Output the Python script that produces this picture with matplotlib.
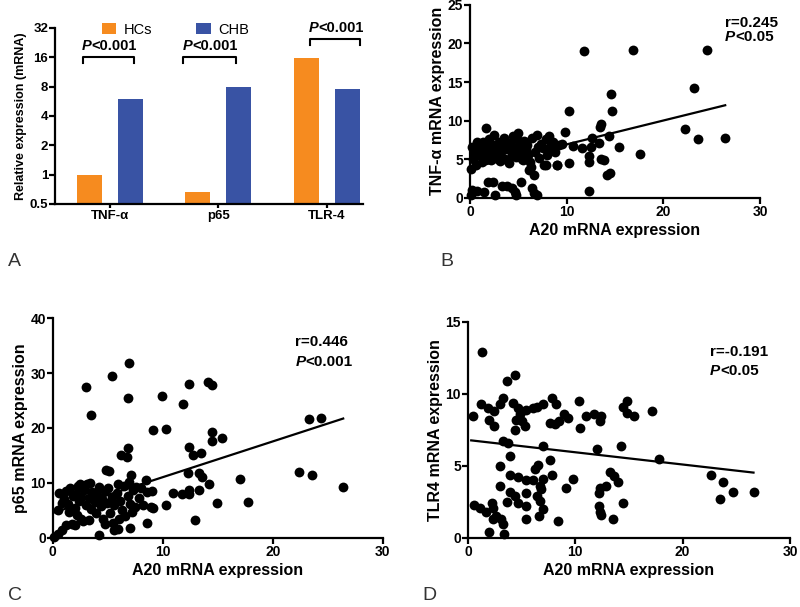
import numpy as np
import matplotlib
matplotlib.use('Agg')
import matplotlib.pyplot as plt

plt.rcParams['font.family'] = ['Liberation Sans', 'DejaVu Sans']
plt.rcParams['font.weight'] = 'bold'

# panel A: relative expression
genes = ['TNF-α', 'p65', 'TLR-4']
hcs = [1.0, 0.66, 15.9]
chb = [6.0, 7.9, 7.6]
a_yticks = [0.5, 1, 2, 4, 8, 16, 32]

# panel B: A20 vs TNF-a
b_x = [11.8, 16.9, 24.5, 23.2, 14.6, 10.2, 14.7, 13.5, 13.4, 22.2, 23.6, 26.4, 17.6, 15.4,
       14.4, 12.6, 12.5, 13.3, 13.6, 13.9, 12.3, 12.3, 14.5, 14.2, 12.3, 11.6, 10.7, 10.2,
       9.8, 9.0, 7.9,
       1.9, 2.4, 0.2, 0.7, 1.4, 2.6, 3.8, 4.3, 4.7, 4.8, 5.3, 6.4, 6.6, 6.9, 0.1, 3.3,
       0.1, 0.2, 0.3, 0.5, 0.6, 0.8, 0.9, 1.0, 1.2, 1.3, 1.5, 1.6, 1.7, 1.8, 2.0, 2.1, 2.2,
       2.4, 2.5, 2.6, 2.8, 3.0, 3.1, 3.2, 3.4, 3.5, 3.6, 3.8, 4.0, 4.1, 4.3, 4.4, 4.6, 4.8,
       5.0, 5.1, 5.3, 5.5, 5.6, 5.8, 6.0, 6.1, 6.3, 6.4, 6.6, 6.7, 6.9, 7.1, 7.3, 7.5, 7.7,
       7.9, 8.0, 8.2, 8.4, 8.6, 8.8, 9.0, 9.2, 9.5, 0.4, 1.1, 2.9, 3.7, 4.9, 5.9, 6.2, 7.0,
       8.1, 0.7, 2.3, 4.2, 5.4]
b_y = [19.0, 19.2, 19.1, 14.2, 13.4, 11.2, 11.2, 9.6, 9.2, 8.9, 7.6, 7.7, 5.7, 6.6,
       8.0, 7.8, 6.6, 7.1, 5.0, 4.9, 5.4, 4.6, 3.2, 3.0, 0.9, 6.5, 6.7, 4.5,
       8.5, 4.2, 4.3,
       2.0, 2.1, 1.0, 0.95, 0.8, 0.4, 1.5, 1.25, 0.8, 0.4, 2.1, 1.3, 0.6, 0.4, 0.4, 1.5,
       3.8, 6.6, 5.0, 6.2, 4.3, 7.0, 5.6, 6.8, 4.6, 7.3, 6.0, 5.2, 9.0, 6.5, 7.6, 5.8, 4.9,
       6.9, 8.2, 5.4, 6.2, 7.2, 4.8, 5.9, 6.6, 7.8, 5.1, 6.3, 4.5, 7.0, 5.6, 8.0, 6.1, 5.3,
       8.4, 6.8, 5.8, 4.9, 7.4, 6.3, 5.5, 3.6, 4.0, 7.8, 3.0, 6.0, 8.2, 5.2, 7.0, 6.4, 4.2,
       7.6, 5.6, 8.0, 6.8, 7.3, 5.9, 4.2, 6.9, 7.0, 5.5, 6.1, 5.0, 7.3, 7.6, 6.9, 4.6, 6.6,
       6.2, 7.2, 6.3, 6.6, 5.0]
b_fit = (0.309, 3.84)

# panel C: A20 vs p65
c_x = [6.9, 5.4, 3.0, 3.5, 6.8, 12.4, 14.1, 14.5, 9.9, 11.8, 9.1, 10.3, 14.5, 14.5, 15.4,
       12.4, 12.7, 13.5, 6.8, 6.2, 6.7, 5.1, 7.1, 12.3, 13.3, 13.6, 14.2, 12.4, 12.4, 11.7,
       10.9, 13.3, 14.9, 10.3, 9.1, 8.6, 12.9, 17.0, 17.7, 22.4, 23.6, 26.4, 23.3, 24.4,
       0.15, 0.5, 0.8, 1.2, 1.7, 2.0, 2.6, 3.3, 4.2, 4.7, 5.6, 5.9, 7.0, 0.6, 0.45,
       1.0, 1.2, 1.4, 1.6, 1.8, 2.0, 2.1, 2.3, 2.4, 2.6, 2.8, 3.0, 3.1, 3.3, 3.5, 3.6, 3.8,
       4.0, 4.2, 4.4, 4.5, 4.7, 4.9, 5.0, 5.2, 5.4, 5.6, 5.8, 6.0, 6.1, 6.3, 6.5, 6.6, 6.8,
       7.0, 7.3, 7.5, 7.8, 8.0, 8.2, 8.5, 8.6, 9.0, 8.9, 2.2, 2.7, 3.9, 1.5, 4.6, 5.5, 7.2,
       0.8, 3.4, 2.5, 5.9, 4.8, 7.6, 6.9]
c_y = [31.8, 29.5, 27.4, 22.4, 25.4, 28.0, 28.4, 27.8, 25.8, 24.4, 19.6, 19.8, 19.2, 17.7, 18.1,
       16.6, 15.1, 15.4, 16.3, 15.0, 14.8, 12.2, 11.5, 11.9, 11.9, 11.0, 9.9, 8.7, 8.0, 8.0,
       8.1, 8.7, 6.3, 6.0, 5.4, 2.8, 3.2, 10.7, 6.5, 12.0, 11.4, 9.3, 21.6, 21.8,
       0.2, 0.8, 1.5, 2.3, 2.6, 2.4, 3.5, 3.2, 0.5, 2.6, 1.4, 1.7, 1.9, 8.1, 5.0,
       7.0, 8.5, 6.2, 9.0, 7.6, 5.5, 8.0, 9.5, 6.8, 7.4, 8.8, 6.0, 9.8, 7.2, 5.2, 8.3, 6.6,
       7.8, 9.3, 5.8, 7.0, 8.6, 6.3, 9.0, 4.5, 7.5, 6.0, 8.2, 3.5, 6.8, 5.0, 9.5, 4.0, 7.6,
       6.2, 8.8, 5.6, 7.2, 9.0, 6.0, 10.5, 8.4, 8.5, 5.6, 4.2, 3.0, 4.6, 4.8, 3.4, 2.8, 4.8,
       6.3, 10.0, 9.9, 9.8, 12.3, 9.3, 10.2]
c_fit = (0.65, 4.56)

# panel D: A20 vs TLR4
d_x = [1.3, 4.4, 3.6, 0.5, 1.2, 1.9, 2.4, 3.0, 3.3, 4.2, 4.7, 5.4, 6.1, 6.4, 7.0, 7.8, 8.2,
       8.9, 9.3, 10.3, 10.4, 11.0, 11.7, 12.4, 12.3, 14.8, 14.4, 14.8, 15.5, 17.1,
       2.0, 2.4, 4.5, 4.4, 5.0, 5.3, 4.8, 7.6, 8.1, 8.5,
       12.0, 14.3, 7.0, 3.7, 3.3, 17.8, 22.6, 23.8, 24.7, 26.6, 23.5, 3.9, 3.0, 6.5, 6.2,
       7.6, 7.8, 9.8, 3.9, 4.7, 5.4, 6.1, 7.0, 3.0, 6.7, 6.8, 9.1, 3.9, 4.4, 4.7, 3.6, 5.4,
       5.4, 5.4, 6.4, 6.7, 7.0, 6.6, 8.4, 12.3, 12.2, 12.9, 13.2, 13.6, 14.0, 14.4, 13.5,
       12.2, 12.3, 12.4, 0.6, 1.1, 1.7, 2.2, 2.3, 2.6, 3.1, 3.3, 2.0, 3.4, 2.3]
d_y = [12.9, 11.3, 10.9, 8.45, 9.3, 9.0, 8.8, 9.3, 9.7, 9.4, 9.0, 8.9, 9.0, 9.1, 9.3, 9.7, 9.3,
       8.6, 8.3, 9.5, 7.6, 8.5, 8.6, 8.45, 8.1, 9.5, 9.1, 8.7, 8.5, 8.8,
       8.2, 7.75, 8.2, 7.5, 8.1, 7.8, 8.6, 8.0, 7.9, 8.1,
       6.2, 6.4, 6.4, 6.6, 6.7, 5.5, 4.35, 3.9, 3.2, 3.2, 2.7, 5.7, 5.0, 5.1, 4.8,
       5.4, 4.4, 4.1, 4.4, 4.2, 4.05, 4.0, 4.1, 3.6, 3.6, 3.4, 3.5, 3.2, 2.9, 2.4, 2.5, 3.1,
       2.25, 1.3, 2.9, 2.55, 2.0, 1.5, 1.2, 3.5, 3.1, 3.6, 4.6, 4.3, 3.9, 2.4, 1.3,
       2.2, 1.8, 1.6, 2.3, 2.1, 1.8, 2.4, 2.1, 1.5, 1.3, 1.0, 0.45, 0.25, 1.3]
d_fit = (-0.085, 6.8)

orange = '#F68B1F'
blue = '#3953A4'

fig = plt.figure(figsize=(8, 6.07), dpi=100)


def style(ax, fs=9.5):
    for s in ['top', 'right']:
        ax.spines[s].set_visible(False)
    for s in ['left', 'bottom']:
        ax.spines[s].set_linewidth(1.6)
    ax.tick_params(width=1.6, length=4, labelsize=fs, pad=1)


# ---- A ----
axA = fig.add_axes([0.069, 0.664, 0.385, 0.29])
x = np.arange(len(genes))
w = 0.23
axA.bar(x - 0.19, hcs, w, color=orange, label='HCs')
axA.bar(x + 0.19, chb, w, color=blue, label='CHB')
axA.set_yscale('log', base=2)
axA.set_ylim(0.5, 32)
axA.set_yticks(a_yticks)
axA.set_yticklabels([str(v) for v in a_yticks])
axA.minorticks_off()
axA.set_xlim(-0.503, 2.336)
axA.set_xticks(x)
axA.set_xticklabels(genes)
axA.set_ylabel('Relative expression (mRNA)', fontsize=9, fontweight='bold', labelpad=2)
style(axA, 9.5)
axA.tick_params(axis='x', length=3)
axA.legend(loc='center', bbox_to_anchor=(0.39, 0.99), ncol=2, frameon=False,
           prop={'size': 10.5, 'weight': 'normal'}, handlelength=1.0, handleheight=0.8,
           columnspacing=3.0, handletextpad=0.5, borderaxespad=0)

brackets = [(-0.245, 0.225, 16.2, 14.0), (0.673, 1.16, 16.2, 14.0), (1.845, 2.306, 24.8, 21.5)]
for x0, x1, ytop, ybot in brackets:
    axA.plot([x0, x0, x1, x1], [ybot, ytop, ytop, ybot], color='black', lw=1.5, clip_on=False)
    xc = (x0 + x1) / 2
    t = axA.text(xc - 0.2, ytop * 1.1, 'P', fontsize=10.5, fontweight='bold',
                 fontstyle='italic', ha='center', va='bottom')
    axA.annotate('<0.001', xycoords=t, xy=(1, 0), fontsize=10.5, fontweight='bold',
                 va='bottom', ha='left', annotation_clip=False)


def scatter_panel(rect, xs, ys, fit, ylim, yticks, ylabel, rtxt, ptxt, tpos):
    ax = fig.add_axes(rect)
    ax.scatter(xs, ys, s=50, color='black', clip_on=False, zorder=3, linewidths=0)
    xs = np.asarray(xs)
    xl = np.array([min(xs.min(), 0.3), xs.max()])
    ax.plot(xl, fit[0] * xl + fit[1], color='black', lw=1.6, zorder=4)
    ax.set_xlim(0, 30)
    ax.set_ylim(*ylim)
    ax.set_xticks([0, 10, 20, 30])
    ax.set_yticks(yticks)
    ax.set_xlabel('A20 mRNA expression', fontsize=11.5, fontweight='bold', labelpad=3)
    ax.set_ylabel(ylabel, fontsize=11.5, fontweight='bold', labelpad=2)
    style(ax, 10)
    ax.text(tpos[0], tpos[1], rtxt, transform=ax.transAxes, fontsize=11,
            fontweight='bold', va='center')
    t = ax.text(tpos[0], tpos[2], 'P', transform=ax.transAxes, fontsize=11,
                fontweight='bold', fontstyle='italic', va='center')
    ax.annotate(ptxt, xycoords=t, xy=(1, 0), fontsize=11, fontweight='bold',
                va='bottom', ha='left')
    return ax


scatter_panel([0.5875, 0.674, 0.3625, 0.318], b_x, b_y, b_fit, (0, 25), [0, 5, 10, 15, 20, 25],
              'TNF-α mRNA expression', 'r=0.245', '<0.05', (0.879, 0.907, 0.834))
scatter_panel([0.066, 0.1137, 0.4125, 0.3624], c_x, c_y, c_fit, (0, 40), [0, 10, 20, 30, 40],
              'p65 mRNA expression', 'r=0.446', '<0.001', (0.735, 0.892, 0.80))
scatter_panel([0.585, 0.1137, 0.4025, 0.356], d_x, d_y, d_fit, (0, 15), [0, 5, 10, 15],
              'TLR4 mRNA expression', 'r=-0.191', '<0.05', (0.752, 0.862, 0.773))

for lbl, px, py in [('A', 8, 262), ('B', 440, 262), ('C', 8, 595), ('D', 422, 595)]:
    fig.text(px / 800, 1 - py / 607, lbl, fontsize=14, fontweight='normal',
             va='center', ha='left', color='#333333')

fig.savefig('out.png', dpi=100)
